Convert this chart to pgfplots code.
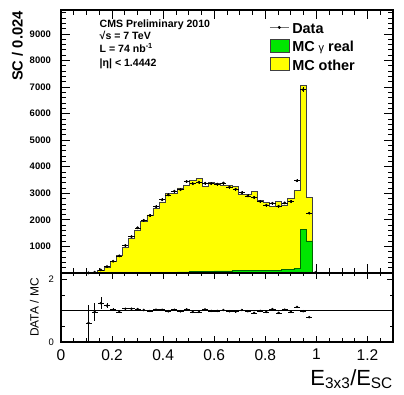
\documentclass[border=0pt]{standalone}
\usepackage{fontspec}
\setmainfont{Liberation Sans}
\usepackage{pgfplots}
\pgfplotsset{compat=1.18}
\usepackage{pgfplotstable}

\definecolor{rootyellow}{RGB}{255,255,0}
\definecolor{rootgreen}{RGB}{0,230,0}

% histogram bins (left edge), MC total (stack top), MC gamma real
\pgfplotstableread{
xl mc gr
0.072 0 0
0.096 6 0
0.120 31 0
0.144 95 1
0.168 210 2
0.192 430 3
0.216 670 4
0.240 975 6
0.264 1290 8
0.288 1620 10
0.312 1940 14
0.336 2190 18
0.360 2420 22
0.384 2680 26
0.408 3000 30
0.432 2990 35
0.456 3200 40
0.480 3310 45
0.504 3500 52
0.528 3560 60
0.552 3250 68
0.576 3400 72
0.600 3380 76
0.624 3320 80
0.648 3300 82
0.672 3250 85
0.696 2960 88
0.720 2960 92
0.744 3060 110
0.768 2720 95
0.792 2660 100
0.816 2500 105
0.840 2700 112
0.864 2560 125
0.888 2800 150
0.912 3100 185
0.936 7050 1650
0.960 2850 1210
0.984 0 0
}\hist

\pgfplotstableread{
x y ey
0.108 4 2
0.132 30 5.5
0.156 118 11
0.180 244 16
0.204 443 21
0.228 643 25
0.252 1034 32
0.276 1367 37
0.300 1701 41
0.324 1979 44
0.348 2168 47
0.372 2493 50
0.396 2760 53
0.420 2940 54
0.444 3080 55
0.468 3136 56
0.492 3442 59
0.516 3360 58
0.540 3418 58
0.564 3380 58
0.588 3366 58
0.612 3346 58
0.636 3386 58
0.660 3234 57
0.684 3152 56
0.708 3019 55
0.732 2901 54
0.756 2846 53
0.780 2693 52
0.804 2554 51
0.828 2625 51
0.852 2511 50
0.876 2637 51
0.900 2688 52
0.924 3472 59
0.948 6900 83
0.972 2250 47
0.996 15 4
}\datatab

\pgfplotstableread{
x r er
0.108 0.61 0.58
0.132 0.96 0.28
0.156 1.24 0.19
0.180 1.16 0.09
0.204 1.03 0.05
0.228 0.96 0.04
0.252 1.06 0.035
0.276 1.06 0.03
0.300 1.05 0.028
0.324 1.02 0.025
0.348 0.99 0.023
0.372 1.03 0.022
0.396 1.03 0.021
0.420 0.98 0.02
0.444 1.03 0.02
0.468 0.98 0.02
0.492 1.04 0.02
0.516 0.96 0.02
0.540 0.96 0.02
0.564 1.04 0.02
0.588 0.99 0.02
0.612 0.99 0.02
0.636 1.02 0.02
0.660 0.98 0.02
0.684 0.97 0.02
0.708 1.02 0.02
0.732 0.98 0.02
0.756 0.93 0.02
0.780 0.99 0.02
0.804 0.96 0.02
0.828 1.05 0.02
0.852 0.93 0.02
0.876 1.03 0.02
0.900 0.96 0.02
0.924 1.12 0.02
0.948 0.98 0.015
0.972 0.79 0.02
}\ratiotab

\begin{document}
\begin{tikzpicture}
\path[use as bounding box] (0,0) rectangle (404bp,395bp);

\pgfplotsset{
  rootframe/.style={
    scale only axis, width=332bp,
    xmin=0, xmax=1.3,
    axis line style={line width=1.5bp, black},
    tick style={line width=0.8bp, black},
    tick align=inside,
    xtick={0,0.2,0.4,0.6,0.8,1,1.2},
    minor xtick={0.05,0.1,0.15,0.25,0.3,0.35,0.45,0.5,0.55,0.65,0.7,0.75,0.85,0.9,0.95,1.05,1.1,1.15,1.25},
    scaled ticks=false,
    clip=true,
  }
}

% ---------------- main panel ----------------
\begin{axis}[
  rootframe,
  at={(61bp,122bp)}, anchor=south west,
  height=263bp,
  ymin=0, ymax=9900,
  major tick length=9bp, minor tick length=5bp,
  xticklabels={,,,,,,},
  ytick={0,1000,2000,3000,4000,5000,6000,7000,8000,9000},
  yticklabels={,1000,2000,3000,4000,5000,6000,7000,8000,9000},
  minor ytick={200,400,...,9800},
  yticklabel style={font=\fontsize{9.5}{11}\selectfont\bfseries, inner sep=0pt, xshift=-10bp},
  ylabel={SC / 0.024},
  ylabel style={at={([xshift=-38bp,yshift=-1bp]rel axis cs:0,1)}, anchor=south east, inner sep=0pt,
    font=\fontsize{14.8}{16}\selectfont\bfseries},
  reverse legend,
  legend cell align=left,
  legend style={at={(rel axis cs:0.627,0.962)}, anchor=north west, draw=none, fill=none,
    inner sep=0pt, row sep=0.5bp,
    font=\fontsize{14.5}{16}\selectfont\bfseries,
    nodes={inner sep=3bp}},
]
\addplot[const plot, fill=rootyellow, draw=black!75, line width=0.6bp, area legend,
  legend image code/.code={\draw[fill=rootyellow, draw=black!75, line width=0.6bp] (0bp,-5bp) rectangle (19bp,8bp);}]
  table[x=xl, y=mc] {\hist} \closedcycle;
\addlegendentry{MC other}
\addplot[const plot, fill=rootgreen, draw=black!60!green, line width=0.6bp, area legend,
  legend image code/.code={\draw[fill=rootgreen, draw=black!75, line width=0.6bp] (0bp,-5bp) rectangle (19bp,8bp);}]
  table[x=xl, y=gr] {\hist} \closedcycle;
\addlegendentry{MC {\mdseries\fontsize{11}{12}\selectfont γ} real}
\addplot[only marks, mark=*, mark size=1.2bp, black,
  legend image code/.code={\draw[black!55, line width=0.9bp] (0bp,1.5bp) -- (19bp,1.5bp); \fill[black] (9.5bp,1.5bp) circle (1.3bp);},
  error bars/.cd, x dir=both, x fixed=0.012, y dir=both, y explicit,
  error bar style={line width=0.6bp, black}, error mark=none]
  table[x=x, y=y, y error=ey] {\datatab};
\addlegendentry{Data}
\node[anchor=base west, font=\fontsize{10.6}{12}\selectfont\bfseries, inner sep=0pt] at (rel axis cs:0.116,0.9316) {CMS Preliminary 2010};
\node[anchor=base west, font=\fontsize{10.6}{12}\selectfont\bfseries, inner sep=0pt] at (rel axis cs:0.116,0.886) {√s = 7 TeV};
\node[anchor=base west, font=\fontsize{10.6}{12}\selectfont\bfseries, inner sep=0pt] at (rel axis cs:0.116,0.838) {L = 74 nb\textsuperscript{-1}};
\node[anchor=base west, font=\fontsize{10.6}{12}\selectfont\bfseries, inner sep=0pt] at (rel axis cs:0.116,0.787) {|η| < 1.4442};
\end{axis}

% ---------------- ratio panel ----------------
\begin{axis}[
  rootframe,
  at={(61bp,53bp)}, anchor=south west,
  height=69bp,
  ymin=0, ymax=2.2,
  major tick length=6bp, minor tick length=3.5bp,
  xticklabels={0,0.2,0.4,0.6,0.8,1,1.2},
  xticklabel style={font=\fontsize{15.6}{17}\selectfont, inner sep=0pt, yshift=-7bp},
  ytick={0,2}, minor ytick={0.5,1,1.5},
  yticklabels={0,2},
  yticklabel style={font=\fontsize{9.5}{11}\selectfont, inner sep=0pt, xshift=-7bp},
  ylabel={DATA / MC},
  ylabel style={at={([xshift=-22bp]rel axis cs:0,0.5)}, anchor=south, inner sep=0pt,
    font=\fontsize{12}{13}\selectfont},
  xlabel={E\textsubscript{3x3}/E\textsubscript{SC}},
  xlabel style={at={([yshift=-27bp]rel axis cs:1,0)}, anchor=north east, inner sep=0pt,
    font=\fontsize{22}{24}\selectfont},
]
\addplot[black, line width=0.6bp] coordinates {(0,1) (1.3,1)};
\addplot[only marks, mark=*, mark size=1.0bp, black,
  error bars/.cd, x dir=both, x fixed=0.012, y dir=both, y explicit,
  error bar style={line width=0.6bp, black}, error mark=none]
  table[x=x, y=r, y error=er] {\ratiotab};
\end{axis}
\end{tikzpicture}
\end{document}
